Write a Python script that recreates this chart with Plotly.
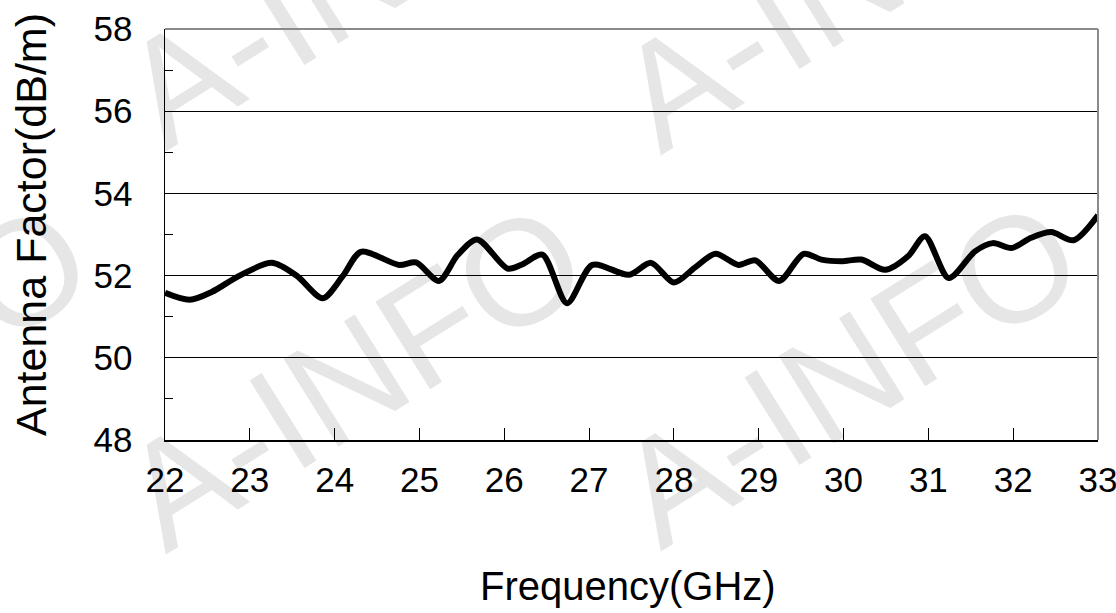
import plotly.graph_objects as go

# Data
freq_ghz = [22.0, 22.29, 22.55, 22.88, 23.26, 23.55, 23.86, 24.1, 24.31, 24.76,
            24.96, 25.23, 25.45, 25.68, 26.04, 26.21, 26.45, 26.74, 27.04, 27.47,
            27.73, 28.0, 28.25, 28.49, 28.76, 28.96, 29.24, 29.53, 29.74, 29.98,
            30.21, 30.49, 30.76, 30.96, 31.24, 31.55, 31.76, 31.98, 32.21, 32.45,
            32.71, 33.0]
antenna_factor = [51.58, 51.41, 51.6, 52.0, 52.31, 52.0, 51.45, 52.0, 52.58, 52.26,
                  52.32, 51.87, 52.5, 52.88, 52.17, 52.27, 52.51, 51.33, 52.26, 52.02,
                  52.31, 51.83, 52.2, 52.53, 52.26, 52.37, 51.87, 52.53, 52.39, 52.35,
                  52.39, 52.14, 52.47, 52.96, 51.94, 52.59, 52.79, 52.67, 52.92, 53.06,
                  52.86, 53.47]

x_ticks = list(range(22, 34))
y_ticks = [48, 50, 52, 54, 56, 58]

x_title = "Frequency(GHz)"
y_title = "Antenna Factor(dB/m)"
watermark = "A-INFO"

FONT = "Arial, Liberation Sans, sans-serif"

W, H = 1116, 613
L, R, T, B = 165, 18, 29, 173
pw, ph = W - L - R, H - T - B


def px2paper(px, py):
    return (px - L) / pw, (H - B - py) / ph


fig = go.Figure()
fig.add_trace(go.Scatter(
    x=freq_ghz, y=antenna_factor, mode="lines",
    line=dict(color="black", width=6, shape="spline", smoothing=0.8),
    showlegend=False, hoverinfo="skip", cliponaxis=True,
))

shapes = []
# watermark (light grey, underneath everything)
wm_centers = [(346, -39), (841, -35), (346, 364), (841, 361), (-149, 364)]
for cx, cy in wm_centers:
    x0, y0 = px2paper(cx - 1, cy + 1)
    x1, y1 = px2paper(cx + 1, cy - 1)
    shapes.append(dict(
        type="rect", xref="paper", yref="paper", x0=x0, x1=x1, y0=y0, y1=y1,
        line=dict(width=0), fillcolor="rgba(0,0,0,0)", layer="below",
        label=dict(text=watermark, textposition="middle center", textangle=-32,
                   font=dict(family=FONT, size=150, color="#e6e6e6")),
    ))
# grey top and right frame lines
shapes.append(dict(type="line", xref="paper", yref="paper", x0=0, x1=1, y0=1, y1=1,
                   line=dict(color="#8a8a8a", width=2), layer="above"))
shapes.append(dict(type="line", xref="paper", yref="paper", x0=1, x1=1, y0=0, y1=1,
                   line=dict(color="#8a8a8a", width=2), layer="above"))

# axis titles placed as annotations (pixel-accurate)
xt_x, xt_y = px2paper(628, 586)
yt_x, yt_y = px2paper(31, 225)
annotations = [
    dict(text=x_title, xref="paper", yref="paper", x=xt_x, y=xt_y,
         xanchor="center", yanchor="middle", showarrow=False,
         font=dict(family=FONT, size=40, color="black")),
    dict(text=y_title, xref="paper", yref="paper", x=yt_x, y=yt_y,
         xanchor="center", yanchor="middle", showarrow=False, textangle=-90,
         font=dict(family=FONT, size=43, color="black")),
]

fig.update_layout(
    width=W, height=H,
    margin=dict(l=L, r=R, t=T, b=B),
    paper_bgcolor="white", plot_bgcolor="rgba(0,0,0,0)",
    font=dict(family=FONT, color="black"),
    shapes=shapes,
    annotations=annotations,
    xaxis=dict(
        range=[22, 33], tickvals=x_ticks, ticktext=[str(v) for v in x_ticks],
        ticks="inside", ticklen=12, tickwidth=1, tickcolor="black",
        showline=True, linecolor="black", linewidth=2,
        showgrid=False, zeroline=False, automargin=False,
        tickfont=dict(size=35, color="black"),
        ticklabelstandoff=8, ticklabeloverflow="allow",
    ),
    yaxis=dict(
        range=[48, 58], tickvals=y_ticks, ticktext=[str(v) for v in y_ticks],
        ticks="inside", ticklen=8, tickwidth=1, tickcolor="black",
        minor=dict(dtick=1, tick0=49, ticks="inside", ticklen=8, tickwidth=1,
                   tickcolor="black", showgrid=False),
        showline=True, linecolor="black", linewidth=1.5,
        showgrid=True, gridcolor="black", gridwidth=1,
        zeroline=False, automargin=False,
        tickfont=dict(size=35, color="black"),
        ticklabelstandoff=24, ticklabeloverflow="allow",
    ),
)

fig.write_html(
    "out.html",
    config={"displayModeBar": False, "staticPlot": True},
    post_script="document.body.style.margin='0';document.body.style.overflow='hidden';",
)
